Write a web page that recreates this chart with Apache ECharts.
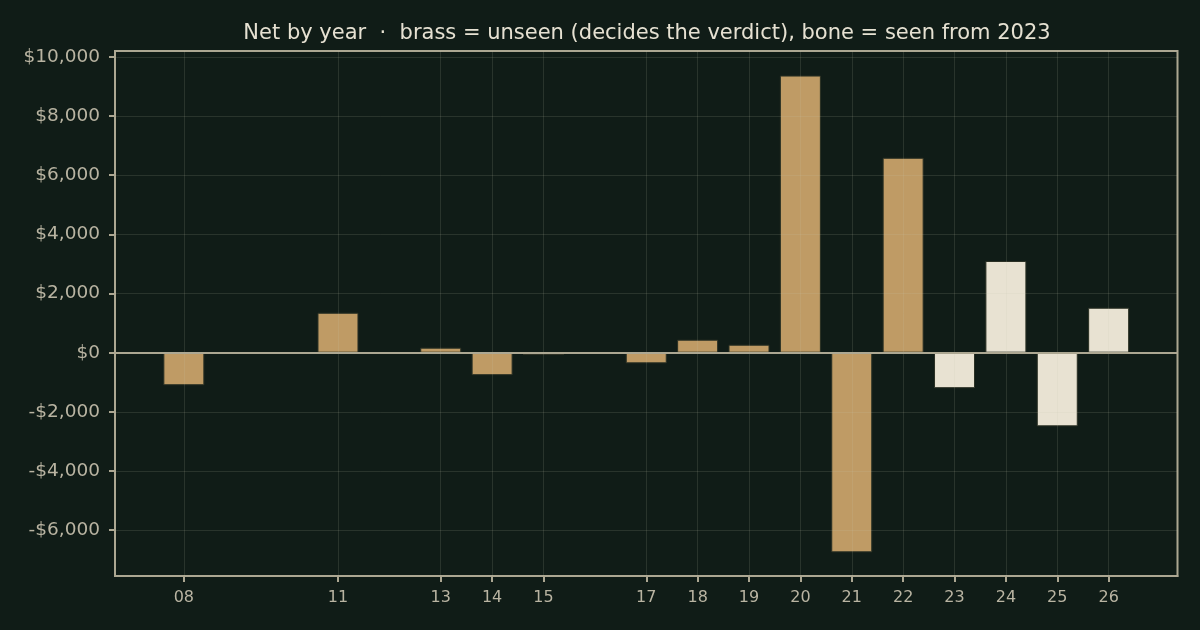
<!DOCTYPE html>
<html>
<head>
<meta charset="utf-8">
<script src="https://cdn.jsdelivr.net/npm/echarts@6/dist/echarts.min.js"></script>
<style>
html,body{margin:0;padding:0;background:#101c17;}
#chart{width:1200px;height:630px;}
</style>
</head>
<body>
<div id="chart"></div>
<script>
// ---- data ----
const years = [2008, 2011, 2013, 2014, 2015, 2017, 2018, 2019, 2020, 2021, 2022, 2023, 2024, 2025, 2026];
const net = [-1100, 1350, 170, -760, -80, -360, 440, 270, 9370, -6750, 6590, -1200, 3100, -2490, 1520];
const seenFromYear = 2023;
const yTicks = [-6000, -4000, -2000, 0, 2000, 4000, 6000, 8000, 10000];
const titleText = 'Net by year  \u00b7  brass = unseen (decides the verdict), bone = seen from 2023';

const BRASS = '#bf9b65';
const BONE = '#e8e2d2';
const FRAME = '#aca792';
const LABEL = '#b9b4a2';
const GRIDLINE = 'rgba(200,200,180,0.14)';
const FONT = 'DejaVu Sans';

const chart = echarts.init(document.getElementById('chart'), null, {renderer: 'canvas'});

const fmtMoney = v => {
  const s = Math.abs(v).toLocaleString('en-US');
  return (v < 0 ? '-$' : '$') + s;
};

chart.setOption({
  backgroundColor: '#101c17',
  animation: false,
  title: {
    text: titleText,
    left: 642, top: 18, textAlign: 'center',
    textStyle: {color: '#e6e1d2', fontFamily: FONT, fontSize: 21, fontWeight: 'normal'}
  },
  grid: {
    left: 115, right: 22.5, top: 51, bottom: 54,
    show: true, borderColor: FRAME, borderWidth: 2, backgroundColor: 'transparent'
  },
  xAxis: {
    type: 'value',
    min: 2006.66, max: 2027.34,
    axisLine: {show: true, onZero: false, lineStyle: {color: FRAME, width: 2}},
    axisTick: {show: true, length: 6, lineStyle: {color: FRAME, width: 2}, customValues: years},
    axisLabel: {
      customValues: years, margin: 14,
      color: LABEL, fontFamily: FONT, fontSize: 16,
      formatter: v => String(Math.round(v)).slice(2)
    },
    splitLine: {show: false}
  },
  yAxis: {
    type: 'value',
    min: -7550, max: 10200,
    axisLine: {show: true, lineStyle: {color: FRAME, width: 2}},
    axisTick: {show: true, length: 6, lineStyle: {color: FRAME, width: 2}, customValues: yTicks},
    axisLabel: {
      customValues: yTicks, margin: 15,
      color: LABEL, fontFamily: FONT, fontSize: 18.5,
      formatter: v => fmtMoney(Math.round(v))
    },
    splitLine: {show: false}
  },
  series: [
    {
      type: 'bar',
      z: 2,
      barWidth: 41,
      data: years.map((y, i) => ({
        value: [y, net[i]],
        itemStyle: {color: y >= seenFromYear ? BONE : BRASS}
      })),
      itemStyle: {borderColor: '#2a3024', borderWidth: 1}
    },
    {
      type: 'line',
      data: [],
      silent: true,
      z: 3,
      markLine: {
        silent: true, symbol: 'none', animation: false,
        label: {show: false},
        lineStyle: {color: GRIDLINE, width: 1, type: 'solid'},
        data: years.map(y => ({xAxis: y})).concat(yTicks.filter(t => t !== 0).map(t => ({yAxis: t})))
      }
    },
    {
      type: 'line',
      data: [],
      silent: true,
      z: 4,
      markLine: {
        silent: true, symbol: 'none', animation: false,
        label: {show: false},
        lineStyle: {color: FRAME, width: 2, type: 'solid'},
        data: [{yAxis: 0}]
      }
    }
  ]
});
</script>
</body>
</html>
